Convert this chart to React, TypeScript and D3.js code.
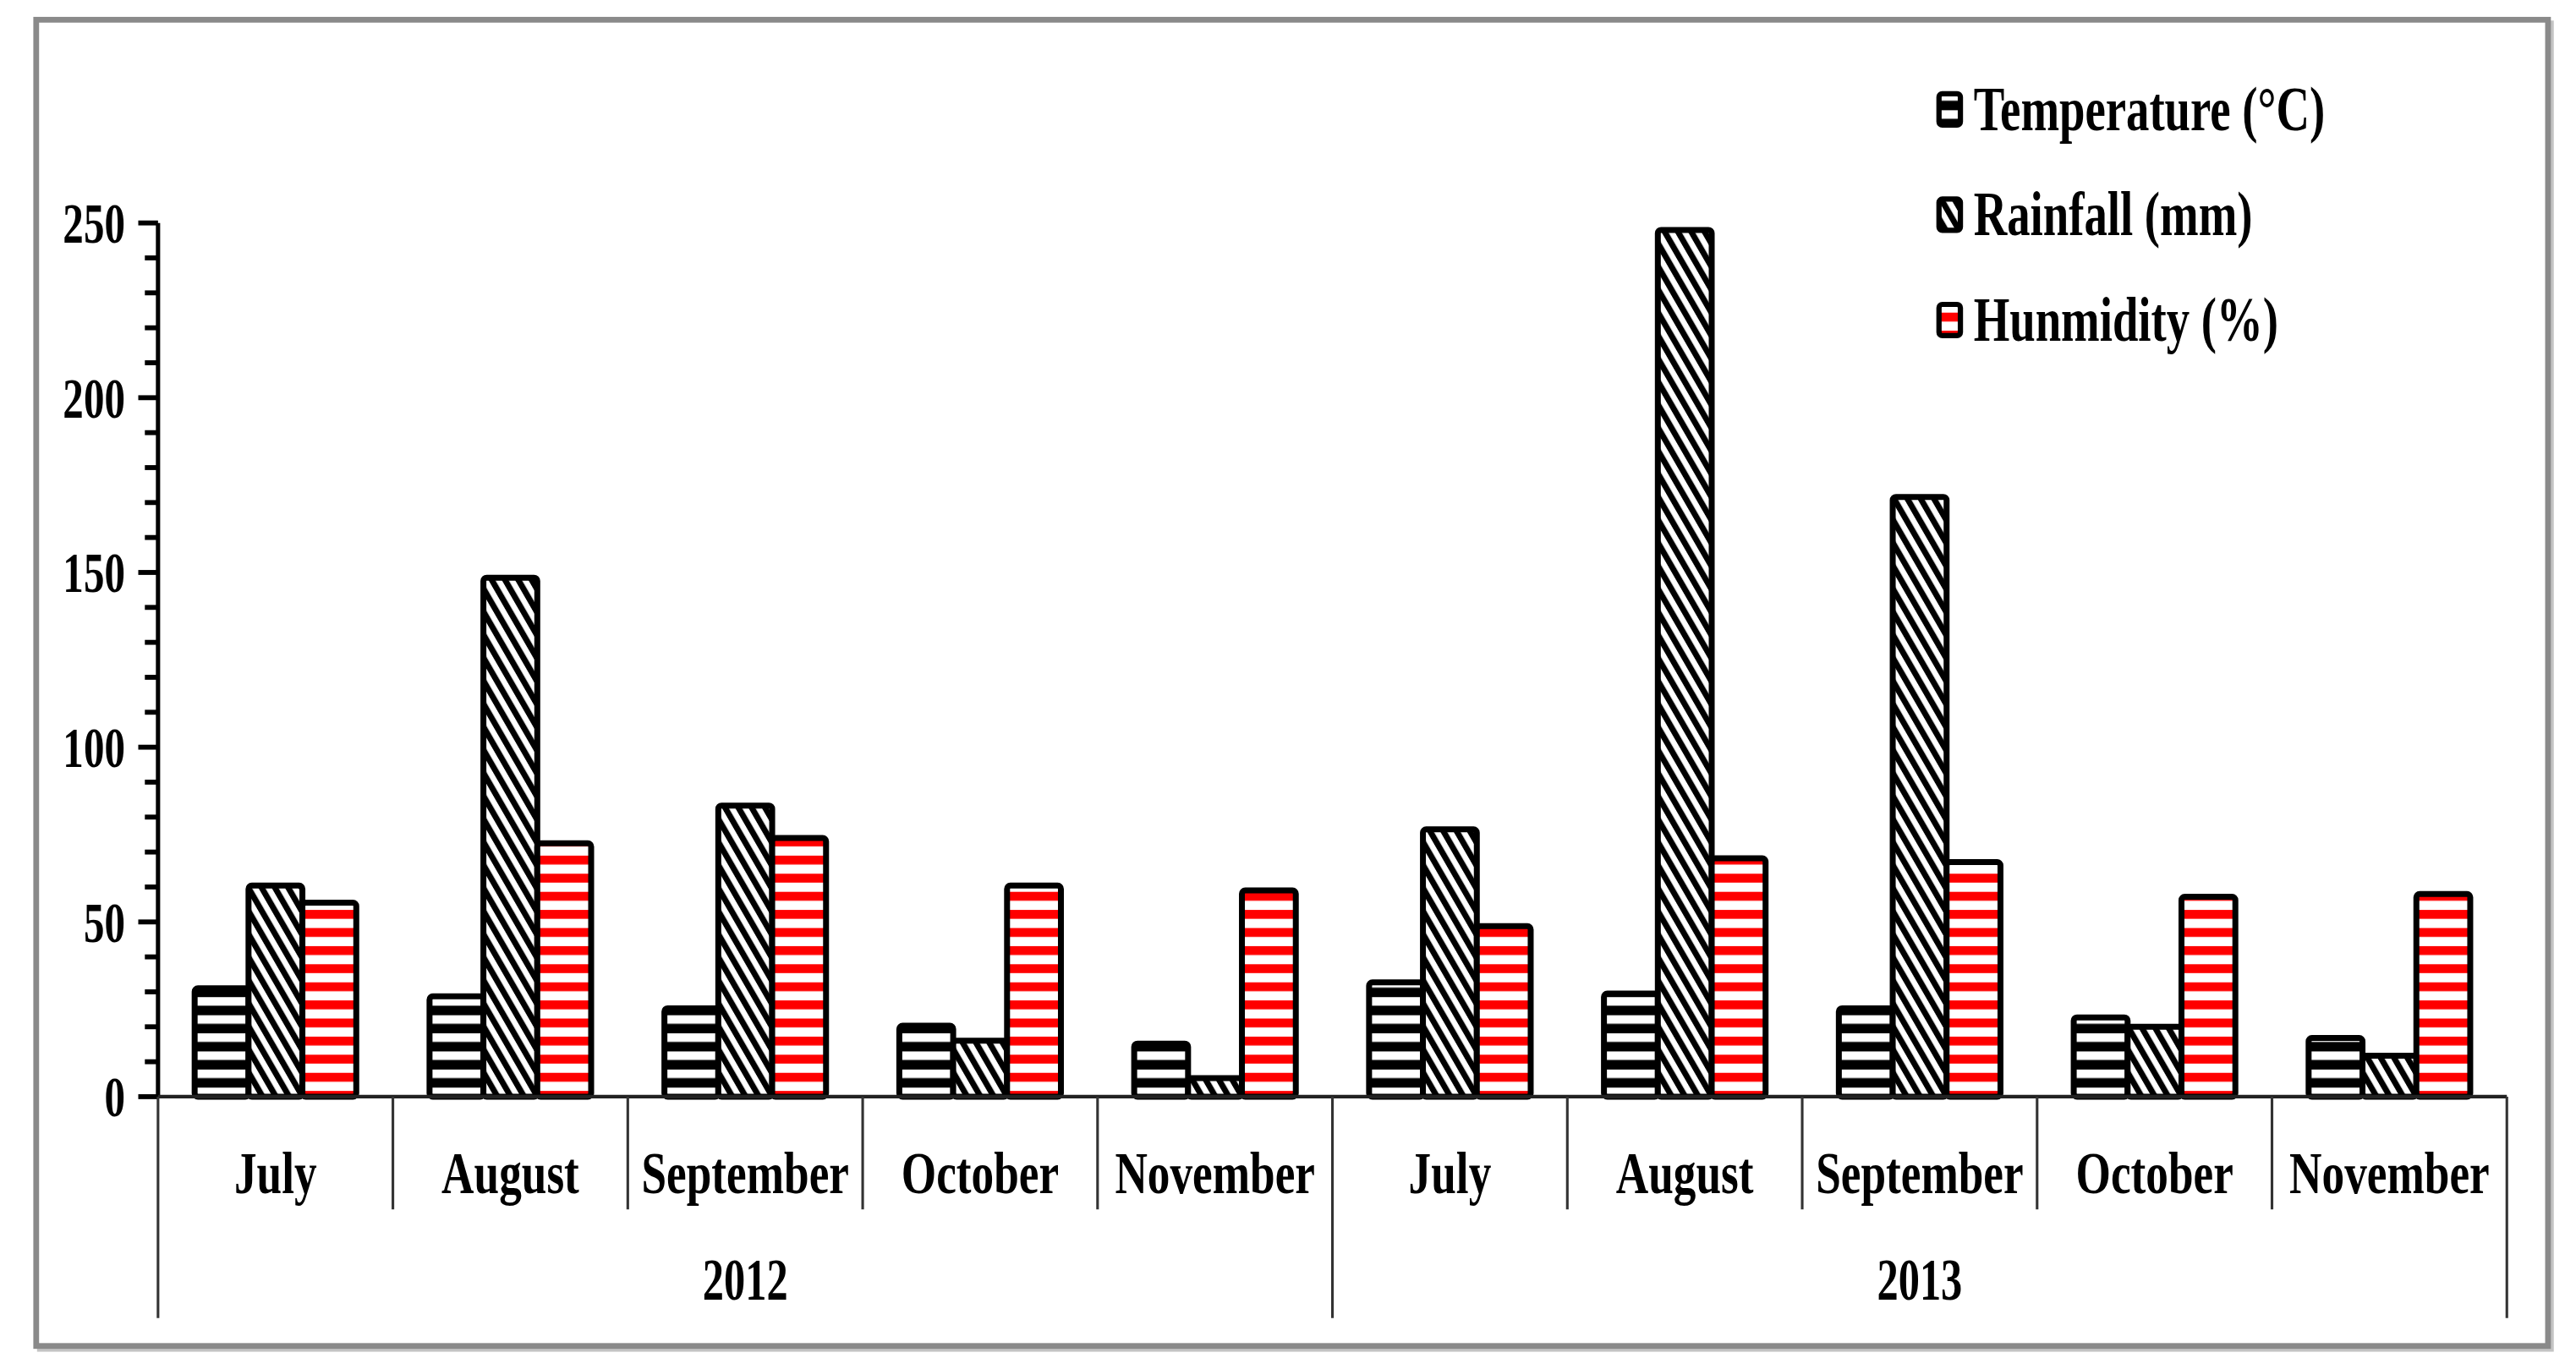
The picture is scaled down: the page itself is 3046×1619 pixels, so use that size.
import * as d3 from 'd3'

const months = ['July', 'August', 'September', 'October', 'November']
const years = ['2012', '2013']
const seriesNames = ['Temperature (°C)', 'Rainfall (mm)', 'Hunmidity (%)']
const temperature = [31, 28.7, 25.3, 20.3, 15.2, 32.7, 29.5, 25.3, 22.7, 16.8]
const rainfall = [60.4, 148.5, 83.3, 16, 5.3, 76.5, 248, 171.6, 20, 11.7]
const humidity = [55.5, 72.5, 74, 60.4, 59, 48.8, 68.2, 67.1, 57.2, 58]
const yTicks = [0, 50, 100, 150, 200, 250]

const W = 1565
const H = 832
const FONT = '"Liberation Serif", "Times New Roman", serif'

const categories = years.flatMap((yr) => months.map((m) => `${m}|${yr}`))
const seriesKeys = ['temp', 'rain', 'hum']
const seriesData: Record<string, number[]> = {
  temp: temperature,
  rain: rainfall,
  hum: humidity,
}
const fills: Record<string, string> = {
  temp: 'url(#pTemp)',
  rain: 'url(#pRain)',
  hum: 'url(#pHum)',
}

const App = () => {
  const left = 96
  const right = 1523
  const x = d3.scaleBand<string>().domain(categories).range([left, right]).padding(0)
  const xs = d3
    .scaleBand<string>()
    .domain(seriesKeys)
    .range([0, x.step()])
    .paddingInner(0)
    .paddingOuter(0.68)
  const y = d3.scaleLinear().domain([0, 250]).range([666.5, 135.5])
  const minor = d3.range(0, 251, 10)
  const yearX = d3.scaleBand<string>().domain(years).range([left, right])

  const label = (
    txt: string,
    tx: number,
    ty: number,
    size: number,
    sx: number,
    anchor: 'start' | 'middle' | 'end',
  ) => (
    <text
      key={`${txt}-${tx}-${ty}`}
      transform={`translate(${tx},${ty}) scale(${sx},1)`}
      textAnchor={anchor}
      fontFamily={FONT}
      fontWeight="bold"
      fontSize={size}
      fill="#000"
    >
      {txt}
    </text>
  )

  return (
    <svg
      width={3046}
      height={1619}
      viewBox={`0 0 ${W} ${H}`}
      preserveAspectRatio="none"
      style={{ position: 'fixed', left: 0, top: 0, background: '#fff' }}
    >
      <defs>
        <pattern id="pTemp" patternUnits="userSpaceOnUse" width={10} height={11} y={1}>
          <rect width={10} height={11} fill="#000" />
          <rect y={0} width={10} height={5.2} fill="#fff" />
        </pattern>
        <pattern id="pHum" patternUnits="userSpaceOnUse" width={10} height={11} y={3}>
          <rect width={10} height={11} fill="#fff" />
          <rect y={0} width={10} height={5.4} fill="#ff0000" />
        </pattern>
        <pattern
          id="pRain"
          patternUnits="userSpaceOnUse"
          width={7}
          height={20}
          patternTransform="rotate(-30)"
        >
          <rect width={7} height={20} fill="#fff" />
          <rect width={3.6} height={20} fill="#000" />
        </pattern>
      </defs>

      <rect x={24} y={14} width={1526} height={806} fill="none" stroke="#c4c4c4" strokeWidth={3} />
      <rect x={22} y={12} width={1526} height={806} fill="#fff" stroke="#8a8a8a" strokeWidth={3.5} />

      {/* bars */}
      {categories.map((c, i) => (
        <g key={c} transform={`translate(${x(c)},0)`}>
          {seriesKeys.map((k) => {
            const v = seriesData[k][i]
            return (
              <rect
                key={k}
                x={xs(k)}
                y={y(v)}
                width={xs.bandwidth()}
                height={y(0) - y(v)}
                fill={fills[k]}
                stroke="#000"
                strokeWidth={3.6}
                rx={2}
              />
            )
          })}
        </g>
      ))}

      {/* y axis */}
      <line x1={left} x2={left} y1={y(250)} y2={y(0)} stroke="#000" strokeWidth={2.6} />
      {minor.map((t) => (
        <line
          key={t}
          x1={t % 50 === 0 ? left - 12 : left - 8}
          x2={left}
          y1={y(t)}
          y2={y(t)}
          stroke="#000"
          strokeWidth={3}
        />
      ))}
      {yTicks.map((t) => label(String(t), 76, y(t) + 12, 35, 0.72, 'end'))}

      {/* x axis */}
      <line x1={left} x2={right} y1={y(0)} y2={y(0)} stroke="#222" strokeWidth={2.2} />
      {d3.range(categories.length + 1).map((i) => {
        const bx = left + i * x.step()
        const long = i % months.length === 0
        return (
          <line
            key={i}
            x1={bx}
            x2={bx}
            y1={y(0)}
            y2={long ? 801 : 735}
            stroke="#333"
            strokeWidth={1.6}
          />
        )
      })}
      {categories.map((c) =>
        label(c.split('|')[0], (x(c) ?? 0) + x.step() / 2, 725, 36, 0.76, 'middle'),
      )}
      {years.map((yr) =>
        label(yr, (yearX(yr) ?? 0) + yearX.bandwidth() / 2, 790, 36, 0.72, 'middle'),
      )}

      {/* legend */}
      {seriesKeys.map((k, i) => {
        const cy = 66 + i * 64
        return (
          <g key={k}>
            <rect
              x={1178}
              y={cy - 9}
              width={13}
              height={19}
              rx={2}
              fill={fills[k]}
              stroke="#000"
              strokeWidth={3.2}
            />
            {label(seriesNames[i], 1199, cy + 13, 38, 0.74, 'start')}
          </g>
        )
      })}
    </svg>
  )
}

export default App
